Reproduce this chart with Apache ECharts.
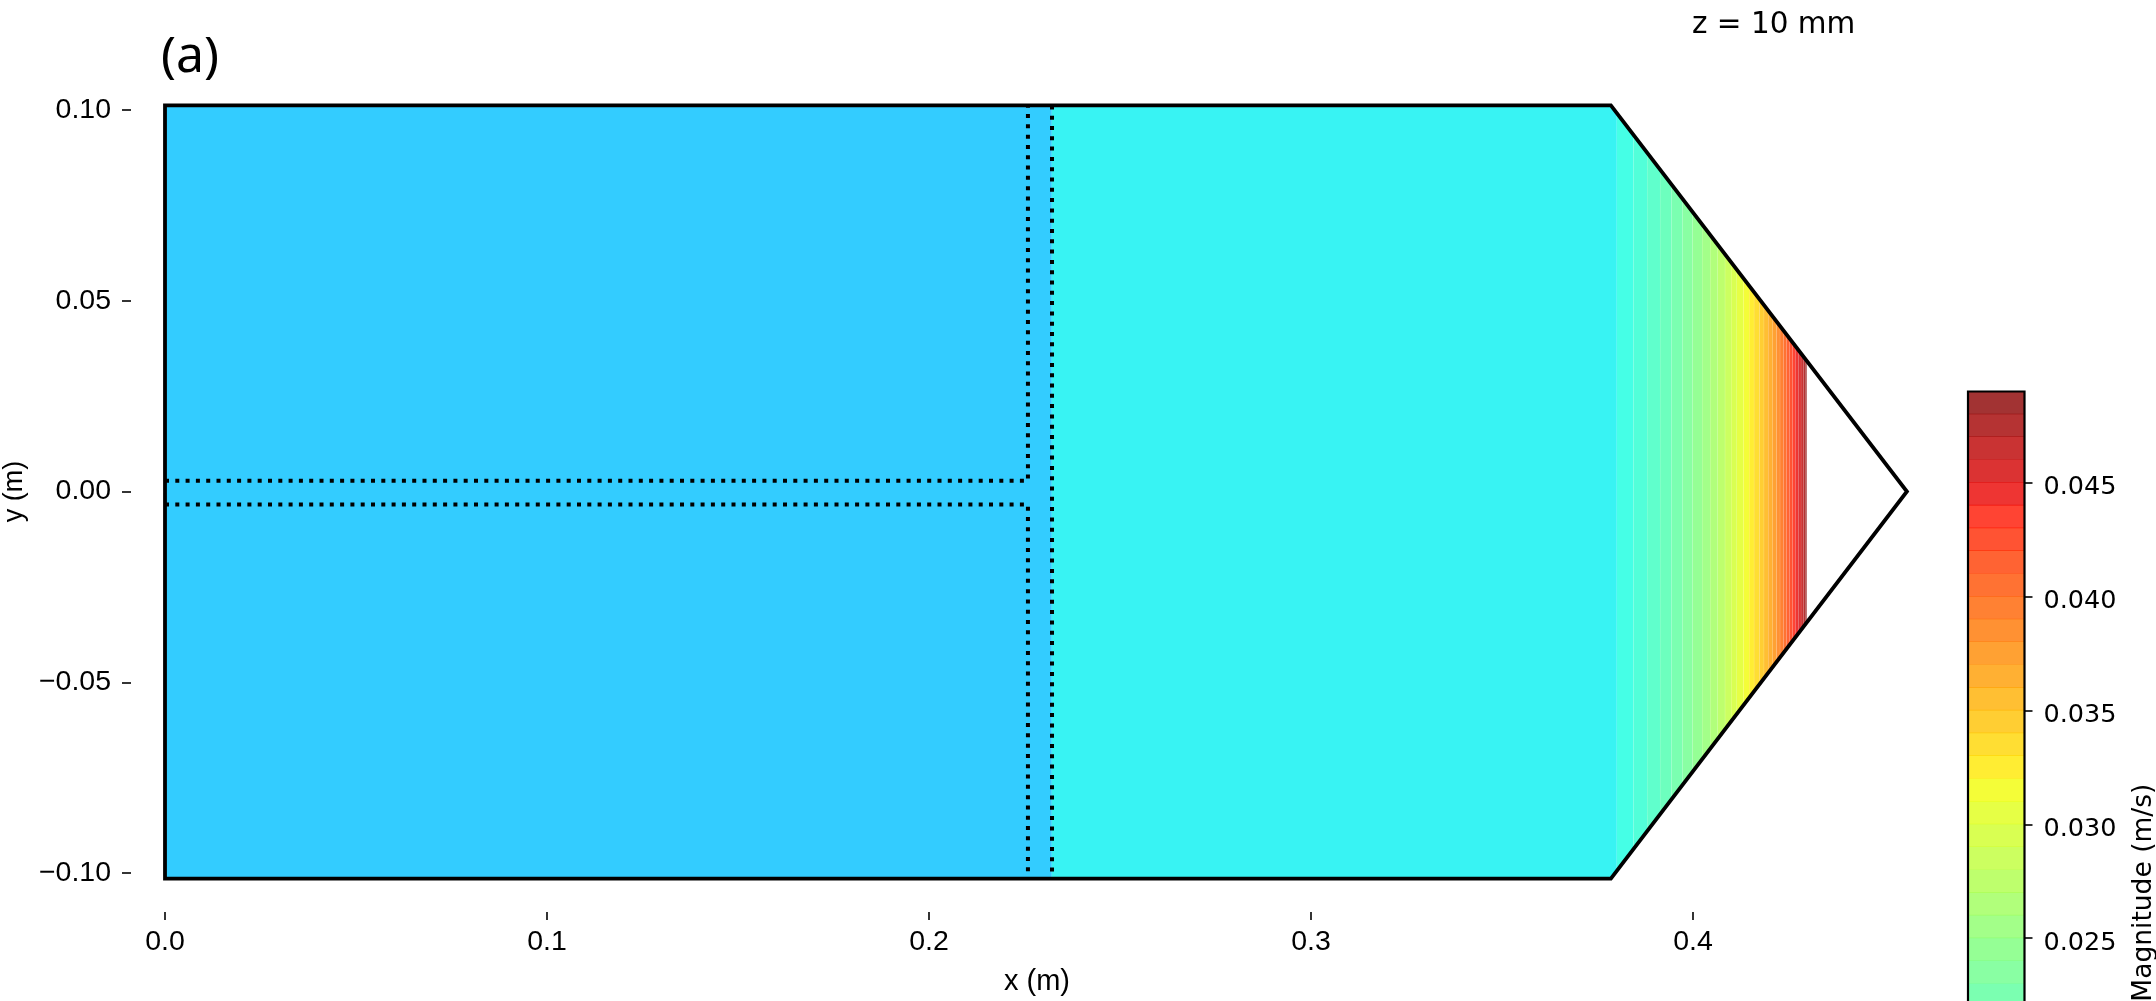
<!DOCTYPE html>
<html>
<head>
<meta charset="utf-8">
<style>html,body{margin:0;padding:0;background:#fff;width:2156px;height:1001px;overflow:hidden}#c{width:2156px;height:1001px}</style>
<script src="https://cdn.jsdelivr.net/npm/echarts@6/dist/echarts.min.js"></script>
</head>
<body>
<div id="c"></div>
<script>
// x ticks / y ticks
const xTicks = [0.0, 0.1, 0.2, 0.3, 0.4];
const yTicks = [-0.10, -0.05, 0.00, 0.05, 0.10];
const colorbarTicks = [0.025, 0.030, 0.035, 0.040, 0.045];

// vessel outline
const outlineX = [0, 0.3785, 0.4560, 0.3785, 0, 0];
const outlineY = [0.1012, 0.1012, 0, -0.1015, -0.1015, 0.1012];

// dotted partition lines
const dotA_X = [0, 0.2259, 0.2259];
const dotA_Y = [0.0028, 0.0028, 0.1012];
const dotB_X = [0, 0.2259, 0.2259];
const dotB_Y = [-0.0034, -0.0034, -0.1015];
const dotC_X = [0.2322, 0.2322];
const dotC_Y = [0.1012, -0.1015];

// filled contour stripes: x edges (one more than colours)
const stripeEdges = [0, 0.2322, 0.3801, 0.3844, 0.3880, 0.3914, 0.3944, 0.3973, 0.3999, 0.4024, 0.4045,
  0.4065, 0.4084, 0.4100, 0.4115, 0.4132, 0.4147, 0.4160, 0.4174, 0.4186, 0.4197, 0.4209, 0.4219,
  0.4228, 0.4237, 0.4245, 0.4253, 0.4261, 0.4268, 0.4276, 0.4283, 0.4290, 0.4294, 0.4298];
const stripeColors = ['#00BFFF', '#06F0F0', '#17FFE0', '#27FFCF', '#38FFBF', '#49FFAE', '#5AFF9D', '#6BFF8C',
  '#7BFF7B', '#8CFF6B', '#9DFF5A', '#AEFF49', '#BFFF38', '#CFFF27', '#E0FF17', '#F1FC06', '#FFE900',
  '#FFD600', '#FFC200', '#FFAF00', '#FF9C00', '#FF8900', '#FF7500', '#FF6200', '#FF4F00', '#FF3C00',
  '#FF2800', '#FF1500', '#EA0200', '#D20000', '#BB0000', '#A30000', '#8B0000'];

// colour bar bands: lower level of each band, and colour
const bandLows = [0.022, 0.023, 0.024, 0.025, 0.026, 0.027, 0.028, 0.029, 0.030, 0.031, 0.032, 0.033, 0.034,
  0.035, 0.036, 0.037, 0.038, 0.039, 0.040, 0.041, 0.042, 0.043, 0.044, 0.045, 0.046, 0.047, 0.048];
const bandColors = ['#5AFF9D', '#6BFF8C', '#7BFF7B', '#8CFF6B', '#9DFF5A', '#AEFF49', '#BFFF38', '#CFFF27',
  '#E0FF17', '#F1FC06', '#FFE900', '#FFD600', '#FFC200', '#FFAF00', '#FF9C00', '#FF8900', '#FF7500',
  '#FF6200', '#FF4F00', '#FF3C00', '#FF2800', '#FF1500', '#EA0200', '#D20000', '#BB0000', '#A30000', '#8B0000'];
const bandWidth = 0.001;

const ink = '#000';
const sansAxis = '"Liberation Sans", Arial, sans-serif';
const dejavu = '"DejaVu Sans", sans-serif';

function halfHeight(x, side) {
  const h = side > 0 ? outlineY[0] : -outlineY[3];
  const cx = outlineX[1], tx = outlineX[2];
  return x <= cx ? h : h * (tx - x) / (tx - cx);
}
function stripePoints(x0, x1) {
  const cx = outlineX[1];
  const xs = (x0 < cx && x1 > cx) ? [x0, cx, x1] : [x0, x1];
  const top = xs.map(x => [x, halfHeight(x, 1)]);
  const bot = xs.slice().reverse().map(x => [x, -halfHeight(x, -1)]);
  return top.concat(bot);
}
const zip = (a, b) => a.map((v, i) => [v, b[i]]);

const chart = echarts.init(document.getElementById('c'), null, { renderer: 'canvas' });
const dotted = { color: ink, width: 4, type: [4, 6.3], cap: 'butt' };
const dotSeries = (x, y) => ({
  type: 'line', xAxisIndex: 0, yAxisIndex: 0, data: zip(x, y), showSymbol: false, symbol: 'none',
  clip: false, silent: true, lineStyle: dotted, z: 4, animation: false
});

chart.setOption({
  animation: false,
  backgroundColor: '#fff',
  textStyle: { color: ink },
  grid: [
    { left: 165, top: 110, width: 1910, height: 763, outerBoundsMode: 'none', containLabel: false },
    { left: 1968, top: 391.5, width: 56.5, height: 1002.3, outerBoundsMode: 'none', containLabel: false }
  ],
  xAxis: [
    {
      type: 'value', gridIndex: 0, min: 0, max: 0.5, offset: 39,
      position: 'bottom', splitLine: { show: false }, axisLine: { show: false, onZero: false },
      axisTick: { show: true, length: 8, customValues: xTicks, lineStyle: { color: ink, width: 1.6 } },
      axisLabel: { color: ink, fontFamily: sansAxis, fontSize: 28.5, margin: 16, customValues: xTicks, formatter: v => v.toFixed(1) },
      name: 'x (m)', nameLocation: 'middle', nameGap: 55,
      nameTextStyle: { color: ink, fontFamily: sansAxis, fontSize: 29, padding: [0, 166, 0, 0] }
    },
    { type: 'value', gridIndex: 1, min: 0, max: 1, show: false }
  ],
  yAxis: [
    {
      type: 'value', gridIndex: 0, min: -0.1, max: 0.1, offset: 34,
      position: 'left', splitLine: { show: false }, axisLine: { show: false, onZero: false },
      axisTick: { show: true, length: 9, customValues: yTicks, lineStyle: { color: ink, width: 1.6 } },
      axisLabel: {
        color: ink, fontFamily: sansAxis, fontSize: 28.5, margin: 20, customValues: yTicks,
        formatter: v => (v < -1e-9 ? '\u2212' : '') + Math.abs(v).toFixed(2)
      },
      name: 'y (m)', nameLocation: 'middle', nameGap: 102, nameRotate: 90,
      nameTextStyle: { color: ink, fontFamily: sansAxis, fontSize: 27 }
    },
    {
      type: 'value', gridIndex: 1, min: 0.005, max: 0.049, position: 'right',
      splitLine: { show: false }, axisLine: { show: false, onZero: false },
      axisTick: { show: true, length: 8, customValues: colorbarTicks, lineStyle: { color: ink, width: 1.6 } },
      axisLabel: {
        color: ink, margin: 19, customValues: colorbarTicks,
        formatter: v => '{a|' + v.toFixed(3) + '}',
        rich: { a: { color: ink, fontFamily: dejavu, fontSize: 25.5, lineHeight: 36, verticalAlign: 'bottom' } }
      },
      name: 'Magnitude (m/s)', nameLocation: 'middle', nameGap: 106, nameRotate: 90,
      nameTextStyle: { color: ink, fontFamily: dejavu, fontSize: 26.5 }
    }
  ],
  graphic: [
    { type: 'text', left: 161, top: 33, style: { text: '(a)', fill: ink, fontFamily: '"Noto Sans", sans-serif', fontSize: 50 } },
    { type: 'text', left: 1692, top: 10, style: { text: 'z = 10 mm', fill: ink, fontFamily: dejavu, fontSize: 29.5 } }
  ],
  series: [
    {
      type: 'custom', xAxisIndex: 0, yAxisIndex: 0, silent: true, clip: false, z: 2,
      data: stripeColors.map((c, i) => [stripeEdges[i], stripeEdges[i + 1], i]),
      renderItem: (p, api) => {
        const i = api.value(2);
        return {
          type: 'polygon',
          shape: { points: stripePoints(api.value(0), api.value(1) - 0.00004).map(pt => api.coord(pt)) },
          style: { fill: stripeColors[i], opacity: 0.8 }
        };
      }
    },
    {
      type: 'line', xAxisIndex: 0, yAxisIndex: 0, data: zip(outlineX, outlineY), showSymbol: false, symbol: 'none',
      clip: false, silent: true, z: 5, lineStyle: { color: ink, width: 3.8, join: 'miter', cap: 'square' }
    },
    dotSeries(dotA_X, dotA_Y), dotSeries(dotB_X, dotB_Y), dotSeries(dotC_X, dotC_Y),
    {
      type: 'custom', xAxisIndex: 1, yAxisIndex: 1, silent: true, z: 2,
      data: bandLows.map((v, i) => [v, i]),
      renderItem: (p, api) => {
        const low = api.value(0), i = api.value(1);
        const a = api.coord([0, low + bandWidth]);
        const b = api.coord([1, low]);
        return {
          type: 'rect',
          shape: { x: a[0], y: a[1] - 0.6, width: b[0] - a[0], height: b[1] - a[1] + 0.6 },
          style: { fill: bandColors[i], opacity: 0.8 }
        };
      }
    },
    {
      type: 'custom', xAxisIndex: 1, yAxisIndex: 1, silent: true, z: 5,
      data: [[0.005, 0.049]],
      renderItem: (p, api) => {
        const a = api.coord([0, api.value(1)]);
        const b = api.coord([1, api.value(0)]);
        return {
          type: 'rect',
          shape: { x: a[0], y: a[1], width: b[0] - a[0], height: b[1] - a[1] },
          style: { fill: 'none', stroke: ink, lineWidth: 2.2 }
        };
      }
    }
  ]
});
</script>
</body>
</html>
